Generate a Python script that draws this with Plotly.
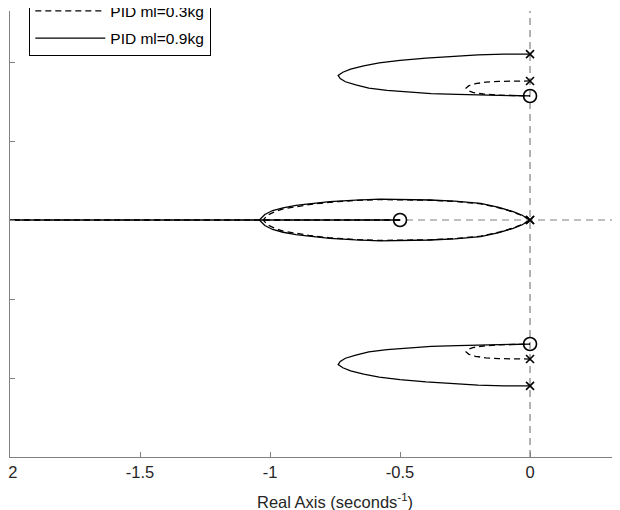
import plotly.graph_objects as go

# ---------------- data ----------------
# ml = 0.9 kg (solid): upper complex branch, pole -> zero
s9_up_re = [0, -0.10, -0.20, -0.30, -0.40, -0.50, -0.58, -0.64, -0.69, -0.72, -0.738,
            -0.73, -0.71, -0.67, -0.62, -0.55, -0.47, -0.38, -0.28, -0.18, -0.08, -0.02, 0]
s9_up_im = [2.10, 2.10, 2.09, 2.07, 2.05, 2.02, 1.99, 1.95, 1.91, 1.87, 1.83,
            1.79, 1.75, 1.71, 1.67, 1.64, 1.62, 1.60, 1.59, 1.58, 1.57, 1.565, 1.57]
s9_lo_re = [0, -0.10, -0.20, -0.30, -0.40, -0.50, -0.58, -0.64, -0.69, -0.72, -0.738,
            -0.73, -0.71, -0.67, -0.62, -0.55, -0.47, -0.38, -0.28, -0.18, -0.08, -0.02, 0]
s9_lo_im = [-2.10, -2.10, -2.09, -2.07, -2.05, -2.02, -1.99, -1.95, -1.91, -1.87, -1.83,
            -1.79, -1.75, -1.71, -1.67, -1.64, -1.62, -1.60, -1.59, -1.58, -1.57, -1.565, -1.57]
# ml = 0.9 kg: loop around the real axis (origin -> break-in point)
s9_ax_up_re = [0, -0.03, -0.065, -0.12, -0.19, -0.29, -0.385, -0.48, -0.577, -0.67, -0.77,
               -0.85, -0.90, -0.95, -0.99, -1.02, -1.041]
s9_ax_up_im = [0, 0.06, 0.105, 0.16, 0.21, 0.24, 0.253, 0.262, 0.263, 0.252, 0.232,
               0.205, 0.185, 0.155, 0.12, 0.07, 0]
s9_ax_lo_re = [0, -0.03, -0.065, -0.12, -0.19, -0.29, -0.385, -0.48, -0.577, -0.67, -0.77,
               -0.85, -0.90, -0.95, -0.99, -1.02, -1.041]
s9_ax_lo_im = [0, -0.06, -0.105, -0.16, -0.21, -0.24, -0.253, -0.262, -0.263, -0.252, -0.232,
               -0.205, -0.185, -0.155, -0.12, -0.07, 0]
# real-axis branches (break-in -> zero at -0.5, break-in -> -inf)
s9_re_re = [-0.5, -1.041, -2.5]
s9_re_im = [0, 0, 0]

# ml = 0.3 kg (dashed)
s3_up_re = [0, -0.06, -0.12, -0.17, -0.21, -0.235, -0.246, -0.24, -0.22, -0.18, -0.12, -0.06, 0]
s3_up_im = [1.76, 1.76, 1.755, 1.745, 1.725, 1.70, 1.67, 1.64, 1.615, 1.595, 1.58, 1.575, 1.57]
s3_lo_re = [0, -0.06, -0.12, -0.17, -0.21, -0.235, -0.246, -0.24, -0.22, -0.18, -0.12, -0.06, 0]
s3_lo_im = [-1.76, -1.76, -1.755, -1.745, -1.725, -1.70, -1.67, -1.64, -1.615, -1.595, -1.58, -1.575, -1.57]
s3_ax_up_re = [0, -0.03, -0.065, -0.12, -0.19, -0.29, -0.385, -0.48, -0.577, -0.67, -0.77,
               -0.85, -0.90, -0.95, -0.985, -1.01, -1.026]
s3_ax_up_im = [0, 0.055, 0.10, 0.155, 0.205, 0.235, 0.25, 0.258, 0.258, 0.248, 0.225,
               0.195, 0.17, 0.14, 0.10, 0.06, 0]
s3_ax_lo_re = [0, -0.03, -0.065, -0.12, -0.19, -0.29, -0.385, -0.48, -0.577, -0.67, -0.77,
               -0.85, -0.90, -0.95, -0.985, -1.01, -1.026]
s3_ax_lo_im = [0, -0.055, -0.10, -0.155, -0.205, -0.235, -0.25, -0.258, -0.258, -0.248, -0.225,
               -0.195, -0.17, -0.14, -0.10, -0.06, 0]
s3_re_re = [-0.5, -1.026, -2.5]
s3_re_im = [0, 0, 0]

# poles and zeros
poles9_re = [0, 0, 0]
poles9_im = [2.10, 0, -2.10]
poles3_re = [0, 0, 0]
poles3_im = [1.76, 0, -1.76]
zeros_re = [0, -0.5, 0]
zeros_im = [1.57, 0, -1.57]

legend_names = ["PID ml=0.3kg", "PID ml=0.9kg"]
x_ticks = [-2, -1.5, -1, -0.5, 0]
x_tick_labels = ["-2", "-1.5", "-1", "-0.5", "0"]
y_ticks = [-3, -2, -1, 0, 1, 2, 3]
x_title = "Real Axis (seconds<sup>-1</sup>)"
x_full_axis_mid = -0.75   # centre of the original (-2 .. 0.5) axis, right part is cropped


def join(branches):
    xs, ys = [], []
    for bx, by in branches:
        xs += list(bx) + [None]
        ys += list(by) + [None]
    return xs, ys


x3, y3 = join([(s3_up_re, s3_up_im), (s3_lo_re, s3_lo_im), (s3_ax_up_re, s3_ax_up_im),
               (s3_ax_lo_re, s3_ax_lo_im), (s3_re_re, s3_re_im)])
x9, y9 = join([(s9_up_re, s9_up_im), (s9_lo_re, s9_lo_im), (s9_ax_up_re, s9_ax_up_im),
               (s9_ax_lo_re, s9_ax_lo_im), (s9_re_re, s9_re_im)])

FONT = "Liberation Sans, Arial, Helvetica, sans-serif"
AX = "#808080"

fig = go.Figure()
fig.add_trace(go.Scatter(x=x3, y=y3, mode="lines", name=legend_names[0], legendgroup="a",
                         line=dict(color="black", width=1.3, dash="6px,4px")))
fig.add_trace(go.Scatter(x=x9, y=y9, mode="lines", name=legend_names[1], legendgroup="b",
                         line=dict(color="black", width=1.3)))
fig.add_trace(go.Scatter(x=poles3_re + poles9_re, y=poles3_im + poles9_im, mode="markers",
                         showlegend=False, hoverinfo="skip",
                         marker=dict(symbol="x-thin-open", size=8, color="black",
                                     line=dict(color="black", width=1.6))))
fig.add_trace(go.Scatter(x=zeros_re, y=zeros_im, mode="markers", showlegend=False,
                         hoverinfo="skip",
                         marker=dict(symbol="circle-open", size=13, color="black",
                                     line=dict(color="black", width=1.6))))

fig.add_shape(type="line", xref="x", yref="paper", x0=0, x1=0, y0=0, y1=1,
              line=dict(color=AX, width=1.2, dash="7px,5px"), layer="below")
fig.add_shape(type="line", xref="paper", yref="y", x0=0, x1=1, y0=0, y1=0,
              line=dict(color=AX, width=1.2, dash="7px,5px"), layer="below")

fig.add_annotation(text=x_title, xref="x", yref="paper", x=x_full_axis_mid, y=0,
                   yshift=-44, yanchor="middle", xanchor="center", showarrow=False,
                   font=dict(family=FONT, size=16.5, color="#262626"))

# page body has an 8px margin: plot area drawn at screen x 10..620, y 11..457
fig.update_layout(
    width=620, height=510,
    margin=dict(l=2, r=8, t=3, b=61, autoexpand=False),
    paper_bgcolor="white", plot_bgcolor="white",
    font=dict(family=FONT, size=16.5, color="#262626"),
    showlegend=True,
    legend=dict(x=(29 - 10) / 610, y=(449 - 48) / 446, xanchor="left", yanchor="bottom",
                bgcolor="white", bordercolor="black", borderwidth=1.3,
                font=dict(family=FONT, size=15.5, color="black"),
                traceorder="grouped", tracegroupgap=4, itemwidth=70),
    xaxis=dict(range=[-2, 0.346], tickvals=x_ticks, ticktext=x_tick_labels,
               showgrid=False, zeroline=False, showline=True, linecolor=AX, linewidth=1.2,
               ticks="inside", ticklen=5, tickcolor=AX, mirror=False, automargin=False,
               ticklabeloverflow="allow"),
    yaxis=dict(range=[-3, 209 / 79], tickvals=y_ticks, showticklabels=False,
               showgrid=False, zeroline=False, showline=True, linecolor=AX, linewidth=1.2,
               ticks="inside", ticklen=5, tickcolor=AX, mirror=False, automargin=False),
)

fig.write_html("out.html")
